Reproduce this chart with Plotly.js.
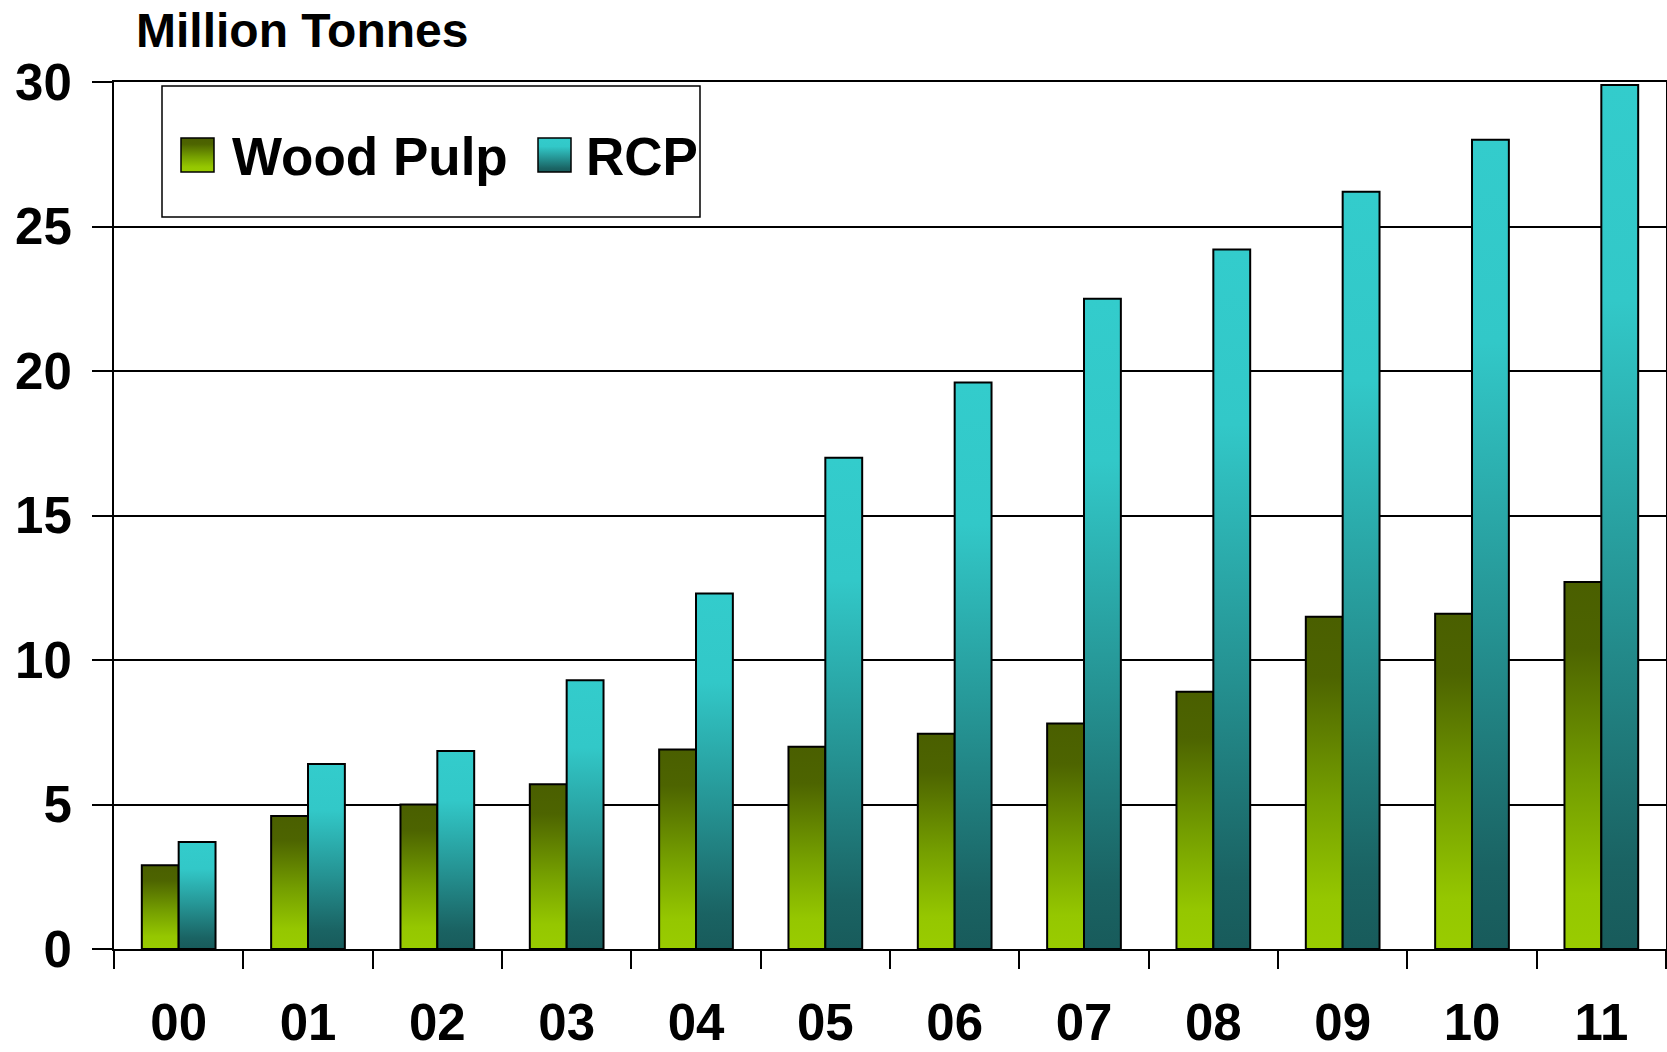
<!DOCTYPE html>
<html>
<head>
<meta charset="utf-8">
<script src="https://cdn.plot.ly/plotly-3.0.1.min.js"></script>
<style>
html,body{margin:0;padding:0;background:#fff;}
#chart{width:1667px;height:1052px;}
</style>
</head>
<body>
<div id="chart"></div>
<script>
const years = ["00","01","02","03","04","05","06","07","08","09","10","11"];
const woodPulp = [2.9, 4.6, 5.0, 5.7, 6.9, 7.0, 7.45, 7.8, 8.9, 11.5, 11.6, 12.7];
const rcp = [3.7, 6.4, 6.85, 9.3, 12.3, 17.0, 19.6, 22.5, 24.2, 26.2, 28.0, 29.9];
const seriesNames = ["Wood Pulp", "RCP"];
const yTicks = [0, 5, 10, 15, 20, 25, 30];

const FONT = "Liberation Sans, Arial, sans-serif";

const traces = [
  {type:"bar", name:seriesNames[0], x:years, y:woodPulp, showlegend:false,
   marker:{color:"#7fa800", line:{color:"#000", width:2}}},
  {type:"bar", name:seriesNames[1], x:years, y:rcp, showlegend:false,
   marker:{color:"#2aa8a8", line:{color:"#000", width:2}}}
];

const L = 114, R = 1, T = 82, B = 103;
const W = 1667, H = 1052;
const pw = W - L - R, ph = H - T - B;
const px = v => (v - L) / pw;
const py = v => (H - B - v) / ph;

// legend placement (pixels)
const swX = [181, 538], swW = 33, swTop = 138, swBot = 172;
const txX = [230, 584], txY = 156;

const shapes = [{type: "rect", xref: "paper", yref: "paper",
  x0: px(162), x1: px(700), y0: py(217), y1: py(86),
  line: {color: "#000", width: 1.5}, fillcolor: "#fff", layer: "above"}];
const annotations = [];
seriesNames.forEach((n, i) => {
  shapes.push({type: "rect", xref: "paper", yref: "paper",
    x0: px(swX[i]), x1: px(swX[i] + swW), y0: py(swBot), y1: py(swTop),
    line: {color: "#000", width: 1.5}, fillcolor: i ? "#2aa8a8" : "#7fa800", layer: "above"});
  annotations.push({xref: "paper", yref: "paper", x: px(txX[i]), y: py(txY),
    xanchor: "left", yanchor: "middle", showarrow: false, text: n,
    font: {family: FONT, size: 53, weight: "bold", color: "#000"}});
});

const layout = {
  width: W, height: H,
  margin: {l:L, r:R, t:T, b:B, pad:0},
  paper_bgcolor: "#fff", plot_bgcolor: "#fff",
  font: {family: FONT, color: "#000", weight: "bold"},
  barmode: "group", bargap: 0.43, bargroupgap: 0,
  title: {text: "Million Tonnes", x: 136/W, xref: "container", xanchor: "left",
          y: 1 - 30/H, yref: "container", yanchor: "middle",
          font: {family: FONT, size: 48, weight: "bold", color:"#000"}},
  xaxis: {type: "category", tickson: "boundaries", ticks: "outside", ticklen: 18,
          tickwidth: 2, tickcolor: "#000", showline: true, linecolor: "#000", linewidth: 2,
          mirror: true, showgrid: false, zeroline: false, ticklabelstandoff: 28,
          tickfont: {family: FONT, size: 51, weight: "bold", color: "#000"}},
  yaxis: {range: [0, 30], tickvals: yTicks, ticks: "outside", ticklen: 20, tickwidth: 2,
          tickcolor: "#000", showline: true, linecolor: "#000", linewidth: 2, mirror: true,
          showgrid: true, gridcolor: "#000", gridwidth: 2, zeroline: false,
          ticklabelstandoff: 10,
          tickfont: {family: FONT, size: 51, weight: "bold", color: "#000"}},
  showlegend: false,
  shapes: shapes,
  annotations: annotations
};

function addGradients(gd){
  const svg = gd.querySelector("svg.main-svg");
  const ns = "http://www.w3.org/2000/svg";
  let defs = svg.querySelector("defs");
  if(!defs){ defs = document.createElementNS(ns, "defs"); svg.insertBefore(defs, svg.firstChild); }
  const mk = (id, stops) => {
    const g = document.createElementNS(ns, "linearGradient");
    g.setAttribute("id", id);
    g.setAttribute("x1","0"); g.setAttribute("y1","0"); g.setAttribute("x2","0"); g.setAttribute("y2","1");
    stops.forEach(s => {
      const st = document.createElementNS(ns, "stop");
      st.setAttribute("offset", s[0]); st.setAttribute("stop-color", s[1]);
      g.appendChild(st);
    });
    defs.appendChild(g);
  };
  mk("gWP", [["0","#4a5f00"],["0.18","#4d6400"],["0.55","#759f00"],["0.85","#95c700"],["1","#99cc00"]]);
  mk("gRCP", [["0","#33cccc"],["0.25","#32c8c8"],["0.6","#259393"],["0.9","#1a6363"],["1","#185b5b"]]);
  const ids = ["gWP","gRCP"];
  gd.querySelectorAll(".barlayer .trace.bars").forEach((t,i) => {
    t.querySelectorAll("path").forEach(p => { p.style.fill = "url(#" + ids[i] + ")"; });
  });
  gd.querySelectorAll(".shapelayer path").forEach(p => {
    const k = +p.getAttribute("data-index");
    if (k === 1 || k === 2) p.style.fill = "url(#" + ids[k-1] + ")";
  });
}

Plotly.newPlot("chart", traces, layout, {staticPlot: true}).then(addGradients);
</script>
</body>
</html>
